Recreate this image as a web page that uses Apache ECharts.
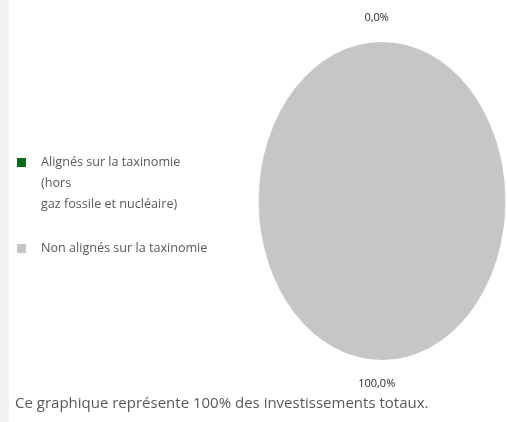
<!DOCTYPE html>
<html lang="fr">
<head>
  <meta charset="UTF-8">
  <script src="https://cdn.jsdelivr.net/npm/echarts@6/dist/echarts.min.js"></script>
  <title>Taxinomie</title>
</head>
<style>
  body {
    margin: 0;
    padding: 0;
    background: #fff;
  }

  .frame {
    position: relative;
    width: 507px;
    height: 422px;
    overflow: hidden;
  }

  .band {
    position: absolute;
    left: 0;
    top: 0;
    width: 9px;
    height: 422px;
    background: #f2f2f2;
  }

  /* pie is drawn round, then squeezed into the ellipse of the original */
  #pie {
    position: absolute;
    left: 222.7px;
    top: 41.8px;
    width: 318px;
    height: 318px;
    transform: scaleX(0.776);
    transform-origin: 50% 50%;
  }

  #main {
    position: absolute;
    left: 0;
    top: 0;
    width: 507px;
    height: 422px;
  }
</style>

<body>
  <div class="frame">
    <div class="band"></div>
    <div id="pie"></div>
    <div id="main"></div>
  </div>
</body>
<script>
  var categories = ['Alignés sur la taxinomie\n(hors\ngaz fossile et nucléaire)', 'Non alignés sur la taxinomie'];
  var values = [0, 100];
  var colors = ['#0c6b1a', '#c6c6c6'];
  var footnote = 'Ce graphique représente 100% des investissements totaux.';

  var font = '"Open Sans", sans-serif';

  function pieData(withColor) {
    return categories.map(function (name, i) {
      return {
        name: name,
        value: values[i],
        itemStyle: { color: withColor ? colors[i] : 'rgba(0,0,0,0)' }
      };
    });
  }

  // filled ellipse
  var pieChart = echarts.init(document.getElementById('pie'));
  pieChart.setOption({
    animation: false,
    series: [{
      type: 'pie',
      silent: true,
      center: ['50%', '50%'],
      radius: '100%',
      startAngle: 90,
      label: { show: false },
      labelLine: { show: false },
      itemStyle: { borderWidth: 0 },
      data: pieData(true)
    }]
  });

  // legend, labels and note, unscaled
  function legendFor(i, top) {
    return {
      data: [{ name: categories[i], itemStyle: { color: colors[i] } }],
      left: 17,
      top: top,
      padding: 0,
      orient: 'vertical',
      selectedMode: false,
      icon: 'rect',
      itemWidth: 9,
      itemHeight: 9,
      formatter: function (name) {
        // keep the icon level with the first line
        return name.indexOf('\n') >= 0 ? '\n\n' + name : name;
      },
      textStyle: {
        fontFamily: font,
        fontSize: 12.6,
        color: '#595959',
        lineHeight: 21,
        padding: [0, 0, 0, 10]
      }
    };
  }

  var mainChart = echarts.init(document.getElementById('main'));
  mainChart.setOption({
    animation: false,
    legend: [legendFor(0, 110), legendFor(1, 238)],
    graphic: [{
      type: 'text',
      left: 15,
      top: 396,
      style: {
        text: footnote,
        font: '15px ' + font,
        fill: '#595959'
      }
    }],
    series: [{
      type: 'pie',
      silent: true,
      center: [381.7, 200.8],
      radius: 159,
      startAngle: 90,
      avoidLabelOverlap: false,
      label: {
        show: true,
        position: 'outside',
        fontFamily: font,
        fontSize: 11,
        color: '#2b2b2b',
        formatter: function (p) {
          return p.percent.toFixed(1).replace('.', ',') + '%';
        }
      },
      labelLine: { show: false, length: 24, length2: 0 },
      labelLayout: function () {
        return { align: 'center' };
      },
      data: pieData(false)
    }]
  });
</script>

</html>
